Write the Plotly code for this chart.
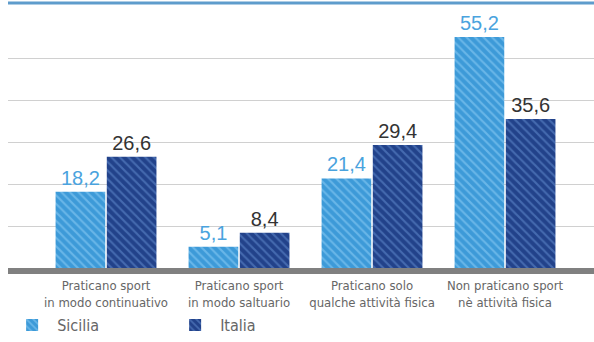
import plotly.graph_objects as go

categories = [
    "Praticano sport<br>in modo continuativo",
    "Praticano sport<br>in modo saltuario",
    "Praticano solo<br>qualche attività fisica",
    "Non praticano sport<br>nè attività fisica",
]
sicilia = [18.2, 5.1, 21.4, 55.2]
italia = [26.6, 8.4, 29.4, 35.6]
grid_vals = [10, 20, 30, 40, 50]

x_idx = list(range(len(categories)))

fig = go.Figure()
fig.add_trace(go.Bar(
    name="Sicilia", x=x_idx, y=sicilia,
    marker=dict(color="#3d9ad8", line=dict(width=0),
                pattern=dict(shape="\\", fgcolor="#7cc2ef", fgopacity=0.7, size=6, solidity=0.35)),
    texttemplate="%{y:.1f}", textposition="outside", cliponaxis=False,
    textfont=dict(family="Liberation Sans, Arial, sans-serif", size=20, color="#4aa3de"),
))
fig.add_trace(go.Bar(
    name="Italia", x=x_idx, y=italia,
    marker=dict(color="#22428a", line=dict(width=0),
                pattern=dict(shape="\\", fgcolor="#4d74b8", fgopacity=0.8, size=6, solidity=0.35)),
    texttemplate="%{y:.1f}", textposition="outside", cliponaxis=False,
    textfont=dict(family="Liberation Sans, Arial, sans-serif", size=20, color="#333333"),
))

fig.update_layout(
    width=594, height=342,
    margin=dict(l=8, r=0, t=3, b=74, autoexpand=False),
    paper_bgcolor="white", plot_bgcolor="white",
    separators=",.",
    barmode="group", bargap=0.23, bargroupgap=0.03,
    showlegend=True,
    legend=dict(orientation="h", x=0.012, xanchor="left", xref="container",
                y=-0.012, yanchor="bottom", yref="container",
                bgcolor="rgba(0,0,0,0)",
                font=dict(family="Liberation Sans Narrow, DejaVu Sans Condensed, sans-serif", size=16, color="#666666"),
                itemwidth=40, entrywidth=108, entrywidthmode="pixels", traceorder="normal"),
)
fig.update_xaxes(
    range=[-0.737, 3.669], tickmode="array", tickvals=x_idx, ticktext=categories,
    showgrid=False, showline=True, linecolor="#808080", linewidth=6,
    ticks="", zeroline=False,
    tickfont=dict(family="Liberation Sans Narrow, DejaVu Sans Condensed, sans-serif", size=13, color="#666666"),
)
fig.update_yaxes(
    range=[0, 63.3], tickmode="array", tickvals=grid_vals, showticklabels=False,
    showgrid=True, gridcolor="#d0d0d0", gridwidth=1, zeroline=False,
)
fig.add_shape(type="line", xref="paper", yref="paper", x0=0, x1=1, y0=1, y1=1,
              line=dict(color="#5e9ccc", width=3))

fig.write_html("out.html")
